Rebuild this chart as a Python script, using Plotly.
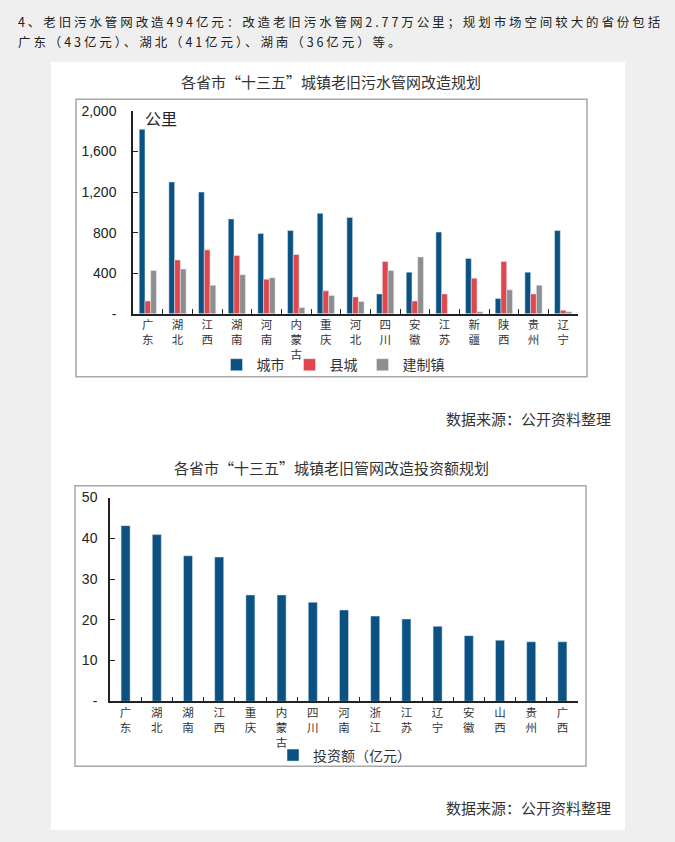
import plotly.graph_objects as go

# ---------------- data ----------------
prov1 = ["广东", "湖北", "江西", "湖南", "河南", "内蒙古", "重庆", "河北",
         "四川", "安徽", "江苏", "新疆", "陕西", "贵州", "辽宁"]
city = [1820, 1300, 1200, 935, 790, 820, 990, 950, 195, 410, 805, 545, 150, 410, 820]
county = [125, 530, 630, 575, 340, 585, 225, 165, 515, 125, 195, 350, 515, 195, 35]
town = [425, 440, 280, 385, 355, 60, 180, 120, 425, 560, 0, 20, 235, 280, 20]
y1_ticks = [0, 400, 800, 1200, 1600, 2000]
y1_text = ["-", "400", "800", "1,200", "1,600", "2,000"]

prov2 = ["广东", "湖北", "湖南", "江西", "重庆", "内蒙古", "四川", "河南",
         "浙江", "江苏", "辽宁", "安徽", "山西", "贵州", "广西"]
invest = [43.1, 40.9, 35.7, 35.4, 26.1, 26.1, 24.3, 22.4, 20.9, 20.2, 18.4, 16.1, 15.0, 14.6, 14.6]
y2_ticks = [0, 10, 20, 30, 40, 50]
y2_text = ["-", "10", "20", "30", "40", "50"]

W, H = 675, 842
def px(x):
    return x / W
def py(y):
    return 1 - y / H

def vert(s):
    return "<br>".join(list(s))

BLUE = "#0b5283"
RED = "#e0474c"
GRAY = "#8e8e8e"
CJK = "Noto Sans CJK SC"
LAT = "Liberation Sans"

fig = go.Figure()
fig.add_trace(go.Bar(x=prov1, y=city, name="城市", marker_color=BLUE,
                     xaxis="x", yaxis="y", legend="legend"))
fig.add_trace(go.Bar(x=prov1, y=county, name="县城", marker_color=RED,
                     xaxis="x", yaxis="y", legend="legend"))
fig.add_trace(go.Bar(x=prov1, y=town, name="建制镇", marker_color=GRAY,
                     xaxis="x", yaxis="y", legend="legend"))
fig.add_trace(go.Bar(x=prov2, y=invest, name="投资额（亿元）", marker_color=BLUE,
                     xaxis="x2", yaxis="y2", legend="legend2", width=0.29))

axis_common = dict(showgrid=False, zeroline=False, showline=True, linecolor="#222",
                   linewidth=1.5, ticks="inside", ticklen=5, tickcolor="#222",
                   tickwidth=1.2)

fig.update_layout(
    width=W, height=H, autosize=False,
    margin=dict(l=0, r=0, t=0, b=0),
    paper_bgcolor="#efefef", plot_bgcolor="rgba(0,0,0,0)",
    barmode="group", bargap=0.42, bargroupgap=0,
    showlegend=True,
    xaxis=dict(domain=[px(133), px(578)], anchor="y", type="category",
               tickmode="array", tickvals=prov1, ticktext=[vert(p) for p in prov1],
               tickson="boundaries", tickangle=0,
               tickfont=dict(family=CJK, size=11.5, color="#333"), **axis_common),
    yaxis=dict(domain=[py(311.6), py(105)], anchor="x", range=[0, 2000],
               tickmode="array", tickvals=y1_ticks, ticktext=y1_text,
               ticklabelstandoff=12,
               tickfont=dict(family=LAT, size=14, color="#222"), **axis_common),
    xaxis2=dict(domain=[px(110), px(578)], anchor="y2", type="category",
                tickmode="array", tickvals=prov2, ticktext=[vert(p) for p in prov2],
                tickson="boundaries", tickangle=0,
                tickfont=dict(family=CJK, size=11.5, color="#333"), **axis_common),
    yaxis2=dict(domain=[py(706.7), py(499)], anchor="x2", range=[0, 50],
                tickmode="array", tickvals=y2_ticks, ticktext=y2_text,
                ticklabelstandoff=8,
                tickfont=dict(family=LAT, size=14, color="#222"), **axis_common),
    legend=dict(orientation="h", x=px(333), y=py(364), xanchor="center", yanchor="middle",
                bgcolor="rgba(0,0,0,0)", font=dict(family=CJK, size=14, color="#333"),
                itemwidth=30, tracegroupgap=0),
    legend2=dict(orientation="h", x=px(273), y=py(762), xanchor="left", yanchor="middle",
                 bgcolor="rgba(0,0,0,0)", font=dict(family=CJK, size=14, color="#333"),
                 itemwidth=30),
)

shapes = [
    # white page panel
    dict(type="rect", xref="paper", yref="paper", x0=px(51), x1=px(625), y0=py(838), y1=py(55),
         fillcolor="white", line=dict(width=0), layer="below"),
    # chart frames
    dict(type="rect", xref="paper", yref="paper", x0=px(76), x1=px(587), y0=py(376), y1=py(93),
         fillcolor="rgba(0,0,0,0)", line=dict(color="#a8a8a8", width=1.5), layer="below"),
    dict(type="rect", xref="paper", yref="paper", x0=px(75), x1=px(586), y0=py(773), y1=py(487),
         fillcolor="rgba(0,0,0,0)", line=dict(color="#a8a8a8", width=1.5), layer="below"),
]
fig.update_layout(shapes=shapes)

ls = '<span style="letter-spacing:2.9px">'
annotations = [
    dict(text=ls + "4、老旧污水管网改造494亿元：改造老旧污水管网2.77万公里；规划市场空间较大的省份包括</span>",
         x=px(16), y=py(14), xanchor="left", yanchor="middle",
         font=dict(family=CJK, size=12.5, color="#222")),
    dict(text=ls + "广东（43亿元）、湖北（41亿元）、湖南（36亿元）等。</span>",
         x=px(16), y=py(34), xanchor="left", yanchor="middle",
         font=dict(family=CJK, size=12.5, color="#222")),
    dict(text="各省市“十三五”城镇老旧污水管网改造规划", x=px(331), y=py(75),
         xanchor="center", yanchor="middle", font=dict(family=CJK, size=15, color="#333")),
    dict(text="公里", x=px(143), y=py(112), xanchor="left", yanchor="middle",
         font=dict(family=CJK, size=16, color="#222")),
    dict(text="数据来源：公开资料整理", x=px(613), y=py(418), xanchor="right", yanchor="middle",
         font=dict(family=CJK, size=15, color="#333")),
    dict(text="各省市“十三五”城镇老旧管网改造投资额规划", x=px(331), y=py(468),
         xanchor="center", yanchor="middle", font=dict(family=CJK, size=15, color="#333")),
    dict(text="数据来源：公开资料整理", x=px(613), y=py(815), xanchor="right", yanchor="middle",
         font=dict(family=CJK, size=15, color="#333")),
]
for a in annotations:
    a.update(xref="paper", yref="paper", showarrow=False)
fig.update_layout(annotations=annotations)

fig.write_html("out.html",
               config={"displayModeBar": False},
               post_script="document.body.style.margin='0px';document.body.style.overflow='hidden';")
